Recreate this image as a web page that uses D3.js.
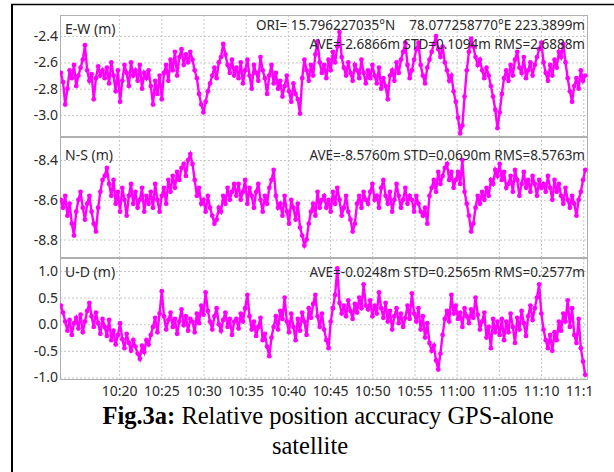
<!DOCTYPE html>
<html>
<head>
<meta charset="utf-8">
<script src="https://cdn.jsdelivr.net/npm/d3@7"></script>
<style>
  body { margin: 0; background: #fff; }
  svg { display: block; }
</style>
</head>
<body>
<script>
// sampling grid of the position solutions (one sample per 15.6 s)
const START = new Date(2018, 0, 1, 10, 13, 6);
const STEP_SEC = 15.6;

// time axis labels
const xTicks = ['10:20', '10:25', '10:30', '10:35', '10:40', '10:45', '10:50', '10:55', '11:00', '11:05', '11:10', '11:15'];

// panel names, tick labels and statistics
const panelNames = ['E-W (m)', 'N-S (m)', 'U-D (m)'];
const yTicks = [[-2.4, -2.6, -2.8, -3.0], [-8.4, -8.6, -8.8], [1.0, 0.5, 0.0, -0.5, -1.0]];
const yDomains = [[-3.167, -2.24], [-8.893, -8.284], [-1.047, 1.244]];
const statTexts = ['AVE=-2.6866m STD=0.1094m RMS=2.6888m',
                   'AVE=-8.5760m STD=0.0690m RMS=8.5763m',
                   'AVE=-0.0248m STD=0.2565m RMS=0.2577m'];
const oriText = 'ORI= 15.796227035\u00b0N\u00a0\u00a0\u00a0\u00a078.077258770\u00b0E 223.3899m';

// east-west error (m)
const eastWest = [
  -2.68, -2.75, -2.92, -2.80, -2.66, -2.72, -2.62, -2.78, -2.70, -2.64, -2.58, -2.47, -2.66, -2.74, -2.69, -2.88, -2.72, -2.63, -2.70, -2.66,
  -2.72, -2.64, -2.76, -2.60, -2.70, -2.82, -2.66, -2.90, -2.74, -2.62, -2.68, -2.78, -2.60, -2.70, -2.66, -2.74, -2.62, -2.80, -2.68, -2.72,
  -2.66, -2.78, -2.92, -2.74, -2.84, -2.70, -2.88, -2.68, -2.62, -2.74, -2.58, -2.66, -2.52, -2.70, -2.56, -2.50, -2.62, -2.54, -2.60, -2.52,
  -2.58, -2.66, -2.72, -2.84, -2.92, -2.98, -2.90, -2.82, -2.76, -2.70, -2.64, -2.72, -2.60, -2.56, -2.46, -2.54, -2.62, -2.68, -2.58, -2.70,
  -2.64, -2.72, -2.60, -2.76, -2.66, -2.58, -2.70, -2.80, -2.62, -2.68, -2.74, -2.56, -2.66, -2.72, -2.84, -2.70, -2.62, -2.76, -2.68, -2.80,
  -2.74, -2.86, -2.78, -2.70, -2.82, -2.90, -2.76, -2.84, -2.88, -2.99, -2.72, -2.58, -2.66, -2.74, -2.62, -2.70, -2.54, -2.44, -2.60, -2.68,
  -2.62, -2.72, -2.58, -2.66, -2.52, -2.60, -2.48, -2.37, -2.56, -2.64, -2.70, -2.60, -2.68, -2.74, -2.62, -2.66, -2.72, -2.58, -2.68, -2.76,
  -2.66, -2.72, -2.62, -2.70, -2.76, -2.64, -2.80, -2.72, -2.78, -2.88, -2.70, -2.66, -2.74, -2.60, -2.68, -2.58, -2.52, -2.45, -2.62, -2.72,
  -2.66, -2.58, -2.50, -2.45, -2.62, -2.70, -2.76, -2.64, -2.58, -2.52, -2.46, -2.40, -2.50, -2.56, -2.48, -2.60, -2.66, -2.74, -2.70, -2.82,
  -2.90, -3.02, -3.14, -3.08, -2.86, -2.66, -2.52, -2.42, -2.48, -2.56, -2.62, -2.58, -2.66, -2.72, -2.64, -2.70, -2.78, -2.86, -2.96, -3.10,
  -2.98, -2.84, -2.72, -2.66, -2.74, -2.62, -2.70, -2.58, -2.52, -2.64, -2.68, -2.56, -2.72, -2.66, -2.60, -2.70, -2.62, -2.56, -2.50, -2.45,
  -2.60, -2.68, -2.74, -2.62, -2.70, -2.58, -2.64, -2.52, -2.56, -2.46, -2.60, -2.72, -2.82, -2.90, -2.78, -2.72, -2.80, -2.66, -2.74, -2.70
];

// north-south error (m)
const northSouth = [
  -8.60, -8.64, -8.58, -8.68, -8.62, -8.72, -8.78, -8.66, -8.60, -8.56, -8.64, -8.70, -8.62, -8.58, -8.66, -8.72, -8.76, -8.64, -8.56, -8.50,
  -8.48, -8.44, -8.52, -8.58, -8.50, -8.62, -8.56, -8.66, -8.54, -8.60, -8.68, -8.58, -8.52, -8.62, -8.56, -8.64, -8.60, -8.54, -8.66, -8.58,
  -8.62, -8.56, -8.64, -8.52, -8.60, -8.66, -8.58, -8.54, -8.62, -8.50, -8.56, -8.48, -8.54, -8.46, -8.50, -8.44, -8.42, -8.48, -8.40, -8.37,
  -8.42, -8.50, -8.58, -8.54, -8.62, -8.60, -8.66, -8.58, -8.64, -8.68, -8.72, -8.70, -8.64, -8.66, -8.58, -8.62, -8.54, -8.60, -8.56, -8.52,
  -8.58, -8.52, -8.60, -8.56, -8.50, -8.62, -8.54, -8.58, -8.64, -8.56, -8.52, -8.60, -8.66, -8.58, -8.62, -8.54, -8.50, -8.45, -8.58, -8.64,
  -8.62, -8.68, -8.58, -8.66, -8.72, -8.60, -8.64, -8.70, -8.62, -8.74, -8.78, -8.83, -8.80, -8.72, -8.66, -8.62, -8.68, -8.56, -8.64, -8.60,
  -8.58, -8.64, -8.60, -8.66, -8.56, -8.62, -8.54, -8.60, -8.68, -8.64, -8.58, -8.66, -8.70, -8.76, -8.72, -8.62, -8.58, -8.64, -8.56, -8.60,
  -8.62, -8.56, -8.52, -8.60, -8.58, -8.64, -8.54, -8.50, -8.58, -8.62, -8.56, -8.66, -8.60, -8.52, -8.58, -8.64, -8.60, -8.54, -8.62, -8.58,
  -8.60, -8.66, -8.58, -8.62, -8.66, -8.68, -8.64, -8.72, -8.58, -8.54, -8.50, -8.56, -8.46, -8.52, -8.48, -8.44, -8.42, -8.50, -8.46, -8.54,
  -8.50, -8.46, -8.52, -8.40, -8.56, -8.62, -8.68, -8.76, -8.72, -8.64, -8.58, -8.62, -8.56, -8.60, -8.54, -8.58, -8.50, -8.52, -8.45, -8.48,
  -8.42, -8.50, -8.46, -8.54, -8.52, -8.48, -8.56, -8.45, -8.50, -8.58, -8.52, -8.46, -8.54, -8.50, -8.56, -8.48, -8.52, -8.58, -8.50, -8.54,
  -8.52, -8.56, -8.48, -8.54, -8.60, -8.50, -8.56, -8.52, -8.58, -8.62, -8.54, -8.60, -8.64, -8.58, -8.62, -8.68, -8.60, -8.56, -8.50, -8.45
];

// up-down error (m)
const upDown = [
   0.35,  0.22,  0.05, -0.12,  0.08, -0.20,  0.02,  0.12, -0.08,  0.18, -0.15,  0.05,  0.25,  0.40,  0.15, -0.05,  0.22,  0.02, -0.18,  0.10,
  -0.05, -0.22,  0.08, -0.30, -0.12, -0.38, -0.20,  0.02, -0.28, -0.45, -0.18, -0.35, -0.50, -0.30, -0.42, -0.55, -0.65, -0.40, -0.52, -0.30,
  -0.38, -0.20, -0.05,  0.12, -0.15,  0.20,  0.62,  0.15, -0.10,  0.08,  0.22, -0.05,  0.10, -0.18,  0.05,  0.28, -0.02,  0.15, -0.12,  0.10,
   0.05, -0.15,  0.20,  0.02,  0.35,  0.18,  0.60,  0.25,  0.05, -0.10,  0.15,  0.30,  0.00, -0.12,  0.08,  0.22, -0.05,  0.10, -0.20,  0.05,
   0.10, -0.08,  0.20,  0.05,  0.30,  0.55,  0.15, -0.10,  0.05, -0.22, -0.05,  0.12, -0.30, -0.18, -0.42, -0.60, -0.25, -0.05,  0.15, -0.10,
   0.25,  0.10,  0.50,  0.05, -0.15,  0.20, -0.05, -0.30,  0.10, -0.12,  0.22,  0.05, -0.20,  0.30,  0.12,  0.38,  0.55,  0.15, -0.05,  0.20,
  -0.10, -0.30, -0.45,  0.05,  0.30,  0.55,  1.05,  0.40,  0.20,  0.35,  0.15,  0.45,  0.25,  0.10,  0.38,  0.22,  0.50,  0.30,  0.75,  0.35,
   0.28,  0.45,  0.15,  0.35,  0.20,  0.60,  0.30,  0.12,  0.40,  0.05,  0.25, -0.10,  0.15,  0.30,  0.02,  0.20, -0.05,  0.12,  0.35,  0.10,
   0.58,  0.20,  0.05,  0.30, -0.10,  0.15, -0.25,  0.02, -0.35, -0.50, -0.40, -0.68, -0.85, -0.55, -0.20,  0.10,  0.25,  0.05,  0.55,  0.20,
   0.35,  0.10,  0.22, -0.05,  0.30,  0.15,  0.02,  0.28,  0.12,  0.50,  0.18, -0.10,  0.05,  0.22, -0.25, -0.05, -0.45,  0.10, -0.15,  0.05,
  -0.20,  0.10, -0.30,  0.05, -0.15,  0.20, -0.05, -0.35,  0.12, -0.10,  0.25,  0.02, -0.22,  0.15,  0.35,  0.08,  0.30,  0.50,  0.75,  0.20,
  -0.10, -0.30, -0.45, -0.20, -0.50, -0.15, -0.30,  0.05, -0.12,  0.20,  0.05,  0.45, -0.05,  0.30, -0.20, -0.35,  0.10, -0.45, -0.70, -0.95
];

const series = [eastWest, northSouth, upDown];

// set dimensions
const WIDTH = 614;
const HEIGHT = 472;
const PLOT = {left: 60, right: 588};
const PANEL_TOPS = [15, 137, 258];
const PANEL_BOTTOMS = [137, 258, 380];
const CLIP_RIGHT = 591;
const DOT = '#ff00ff';
const GRID = '#c6c6c6';
const FRAME = '#b0b0b0';
const INK = '#2a2a2a';
const SANS = 'Noto Sans, DejaVu Sans, sans-serif';
const SERIF = 'Liberation Serif, Times New Roman, serif';
const FONT = '14px';
const STAT_FONT = '13.5px';

const parseTime = d3.timeParse('%H:%M');
const toToday = s => {
  const t = parseTime(s);
  return new Date(2018, 0, 1, t.getHours(), t.getMinutes());
};

// time of each sample
const times = eastWest.map((d, i) => new Date(START.getTime() + i * STEP_SEC * 1000));

let SVG = d3.select('body')
            .append('svg')
            .attr('width', WIDTH)
            .attr('height', HEIGHT);

// page frame of the figure
SVG.append('line')
   .attr('x1', 11).attr('x2', WIDTH)
   .attr('y1', 4.5).attr('y2', 4.5)
   .attr('stroke', '#000').attr('stroke-width', 1.5);
SVG.append('line')
   .attr('x1', 12).attr('x2', 12)
   .attr('y1', 4).attr('y2', HEIGHT)
   .attr('stroke', '#000').attr('stroke-width', 2);

SVG.append('clipPath').attr('id', 'canvasClip')
   .append('rect').attr('x', 0).attr('y', 0).attr('width', CLIP_RIGHT).attr('height', HEIGHT);

let chart = SVG.append('g').attr('clip-path', 'url(#canvasClip)');

// shared time scale
const xScale = d3.scaleTime()
                 .domain([new Date(2018, 0, 1, 10, 13, 0), new Date(2018, 0, 1, 11, 15, 34)])
                 .range([PLOT.left, PLOT.right]);
const xTickDates = xTicks.map(toToday);

series.forEach((values, p) => {
  const top = PANEL_TOPS[p];
  const bottom = PANEL_BOTTOMS[p];

  const yScale = d3.scaleLinear()
                   .domain(yDomains[p])
                   .range([bottom, top]);

  let panel = chart.append('g').attr('class', 'panel');

  panel.append('clipPath').attr('id', 'clip' + p)
       .append('rect')
       .attr('x', PLOT.left).attr('y', top)
       .attr('width', PLOT.right - PLOT.left).attr('height', bottom - top);

  // dotted grid lines
  panel.append('g')
       .attr('transform', 'translate(' + PLOT.left + ',0)')
       .call(d3.axisLeft(yScale).tickValues(yTicks[p]).tickSize(-(PLOT.right - PLOT.left)).tickFormat(''))
       .call(g => g.select('.domain').remove())
       .call(g => g.selectAll('line').attr('stroke', GRID).attr('stroke-dasharray', '2,2'));

  panel.append('g')
       .attr('transform', 'translate(0,' + bottom + ')')
       .call(d3.axisBottom(xScale).tickValues(xTickDates.filter(d => xScale(d) < PLOT.right - 1))
               .tickSize(-(bottom - top)).tickFormat(''))
       .call(g => g.select('.domain').remove())
       .call(g => g.selectAll('line').attr('stroke', GRID).attr('stroke-dasharray', '2,2'));

  // panel frame
  panel.append('rect')
       .attr('x', PLOT.left + 0.5).attr('y', top + 0.5)
       .attr('width', PLOT.right - PLOT.left - 1).attr('height', bottom - top - 1)
       .attr('fill', 'none').attr('stroke', FRAME);

  // y tick labels
  panel.append('g')
       .attr('transform', 'translate(' + PLOT.left + ',0)')
       .call(d3.axisLeft(yScale).tickValues(yTicks[p]).tickSize(0).tickPadding(2))
       .call(g => g.select('.domain').remove())
       .call(g => g.selectAll('text')
                   .attr('fill', INK)
                   .style('font-family', SANS)
                   .style('font-size', FONT)
                   .text(d => d3.format('.1f')(d).replace('\u2212', '-')));

  // solution points, joined thinly like the dense 1 Hz record
  let marks = panel.append('g').attr('clip-path', 'url(#clip' + p + ')');

  marks.append('path')
       .datum(values)
       .attr('fill', 'none')
       .attr('stroke', DOT)
       .attr('stroke-width', 2.4)
       .attr('d', d3.line().x((d, i) => xScale(times[i])).y(d => yScale(d)));

  marks.selectAll('circle')
       .data(values)
       .enter()
       .append('circle')
       .attr('cx', (d, i) => xScale(times[i]))
       .attr('cy', d => yScale(d))
       .attr('r', 2.4)
       .attr('fill', DOT);

  // panel name and statistics
  const nameY = [34, 160, 277][p];
  panel.append('text')
       .attr('x', PLOT.left + 5)
       .attr('y', nameY)
       .text(panelNames[p])
       .style('font-family', SANS).style('font-size', FONT).attr('fill', INK);

  panel.append('text')
       .attr('x', PLOT.right - 3)
       .attr('y', p === 0 ? 48.5 : nameY)
       .attr('text-anchor', 'end')
       .text(statTexts[p])
       .style('font-family', SANS).style('font-size', STAT_FONT).attr('fill', INK);

  if (p === 0) {
    panel.append('text')
         .attr('x', PLOT.right - 3)
         .attr('y', 30)
         .attr('text-anchor', 'end')
         .text(oriText)
         .style('font-family', SANS).style('font-size', STAT_FONT).attr('fill', INK);
  }
});

// time labels under the last panel
chart.append('g')
     .attr('transform', 'translate(0,' + PANEL_BOTTOMS[2] + ')')
     .call(d3.axisBottom(xScale).tickValues(xTickDates).tickSize(0).tickPadding(6).tickFormat(d3.timeFormat('%H:%M')))
     .call(g => g.select('.domain').remove())
     .call(g => g.selectAll('text')
                 .attr('fill', INK)
                 .style('font-family', SANS)
                 .style('font-size', FONT));

// figure caption
let caption = SVG.append('text')
                 .attr('x', 328)
                 .attr('y', 424)
                 .attr('text-anchor', 'middle')
                 .style('font-family', SERIF)
                 .style('font-size', '24.5px')
                 .attr('fill', '#000');
caption.append('tspan').style('font-weight', 'bold').text('Fig.3a:');
caption.append('tspan').text(' Relative position accuracy GPS-alone');

SVG.append('text')
   .attr('x', 310)
   .attr('y', 454)
   .attr('text-anchor', 'middle')
   .style('font-family', SERIF)
   .style('font-size', '24.5px')
   .attr('fill', '#000')
   .text('satellite');
</script>
</body>
</html>
